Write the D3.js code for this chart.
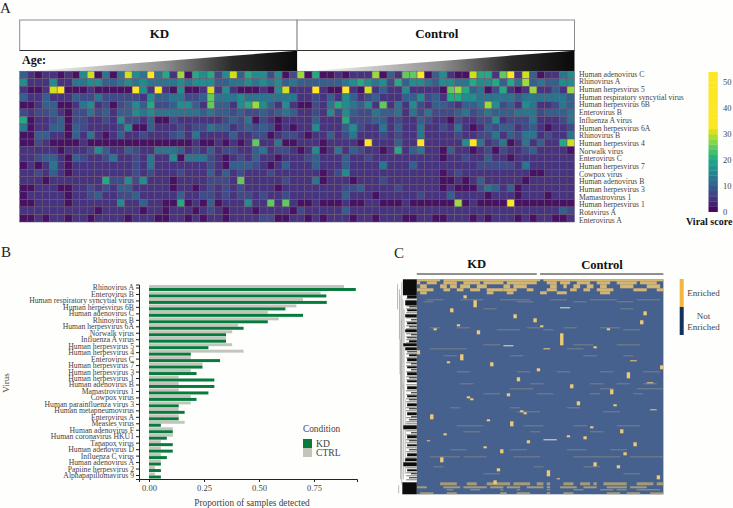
<!DOCTYPE html>
<html>
<head>
<meta charset="utf-8">
<script src="https://cdn.jsdelivr.net/npm/d3@7"></script>
<style>
  html, body { margin: 0; padding: 0; background: #fefefc; }
  svg { display: block; }
  text { font-family: "Liberation Serif", serif; fill: #444; }
  .bold { font-weight: bold; fill: #111; }
</style>
</head>
<body>
<svg id="chart" width="733" height="508"></svg>
<script>
"use strict";

// panel A
var heatViruses = ["Human adenovirus C", "Rhinovirus A", "Human herpesvirus 5", "Human respiratory syncytial virus",
    "Human herpesvirus 6B", "Enterovirus B", "Influenza A virus", "Human herpesvirus 6A", "Rhinovirus B",
    "Human herpesvirus 4", "Norwalk virus", "Enterovirus C", "Human herpesvirus 7", "Cowpox virus",
    "Human adenovirus B", "Human herpesvirus 3", "Mamastrovirus 1", "Human herpesvirus 1", "Rotavirus A", "Enterovirus A"];

// score for each shade seen in the cells
var shadeScores = [1.5, 5, 7.5, 10, 13, 16, 20, 25, 28, 30.5, 50];

// one character per sample, index into shadeScores (a = 10)
var kdRows = [
    "31011010590404954a4618065625936552502",
    "5111511445533454544445455533445454534",
    "10019a000100000a51a105001915100010591",
    "3113111322422222153344223744454444444",
    "0013300145120235362235531733156853151",
    "2122310224231335454444443433232232343",
    "6011230221121522130021111112324021011",
    "4011330321111250031112122433123232010",
    "0033110314101311211123141111311220122",
    "0021000010000000000000010010101711400",
    "1111101112531132114443121312211341221",
    "1123310321124112141150444210121311011",
    "0101410111111112141111111210333210131",
    "1121310111111112121112111313121112111",
    "1110111111162252511101111222171111121",
    "0011100112121331111101101212121111011",
    "0111110112311223111113112212122121121",
    "0011110111111511311006010301115117171",
    "1111111111011111011011101210111011110",
    "0010110110111101110011010110111122001"
];
var controlRows = [
    "8060010111803177a03510096617a19301145",
    "3333334565452635543554465563648343355",
    "11a100a109131151111078634026101811318",
    "1121315312311133523166554444434444443",
    "0021465435171415213321334852315411243",
    "1121525322433414242223423433344423334",
    "1131116222331211321102112251222411124",
    "1151113521141311411214101323312310112",
    "1011312411121211411112112241324412114",
    "111011110a111311a111115a4124014131169",
    "0150141321101613411031101202112311110",
    "1231113112111111111011211311011111111",
    "1131113111141113111111112222214111111",
    "1110125111111111111012111111111001111",
    "1140111011121111111001013111110111111",
    "1111112231111211111010002431301111111",
    "1111113111011111211131111011101110111",
    "0010001001100010000008010000a00000000",
    "2111113111111111111111111111111111132",
    "1010111011011100110011101011101011001"
];
var scoreTicks = [0, 10, 20, 30, 40, 50];
var scoreSteps = d3.range(0, 54, 2);

// panel B
var barViruses = ["Rhinovirus A", "Enterovirus B", "Human respiratory syncytial virus", "Human herpesvirus 6B",
    "Human adenovirus C", "Rhinovirus B", "Human herpesvirus 6A", "Norwalk virus", "Influenza A virus",
    "Human herpesvirus 5", "Human herpesvirus 4", "Enterovirus C", "Human herpesvirus 7", "Human herpesvirus 3",
    "Human herpesvirus 1", "Human adenovirus B", "Mamastrovirus 1", "Cowpox virus", "Human parainfluenza virus 3",
    "Human metapneumovirus", "Enterovirus A", "Measles virus", "Human adenovirus F", "Human coronavirus HKU1",
    "Tanapox virus", "Human adenovirus D", "Influenza C virus", "Human adenovirus A", "Papiine herpesvirus 2",
    "Alphapapillomavirus 9"];
var ctrlValues = [0.886, 0.78, 0.70, 0.67, 0.54, 0.59, 0.405, 0.378, 0.35, 0.378, 0.43, 0.19, 0.243, 0.19, 0.135,
    0.135, 0.135, 0.19, 0.19, 0.135, 0.135, 0.162, 0.108, 0.108, 0.054, 0.054, 0.054, 0.054, 0.027, 0.027];
var kdValues = [0.94, 0.806, 0.808, 0.62, 0.70, 0.54, 0.43, 0.35, 0.35, 0.27, 0.19, 0.323, 0.243, 0.216, 0.297,
    0.297, 0.27, 0.216, 0.135, 0.162, 0.135, 0.054, 0.108, 0.081, 0.108, 0.108, 0.081, 0.054, 0.054, 0.054];
var propTicks = [0, 0.25, 0.5, 0.75];

// panel C, [first column, last column, first row, last row]
var enrichedBlocks = [[14,14,16,18],[17,17,21,27],[10,10,29,32],[29,29,35,38],[35,35,39,42],[12,12,45,46],[5,5,49,50],
    [18,18,51,54],[37,37,46,47],[57,57,49,50],[43,43,54,65],[38,39,69,69],[53,53,67,68],[0,0,71,74],[13,13,75,80],
    [9,9,82,83],[22,22,83,86],[64,65,81,81],[73,73,86,89],[36,36,89,91],[63,63,93,98],[30,30,98,101],[46,46,105,108],
    [69,70,103,103],[58,58,110,114],[27,27,114,116],[15,15,117,118],[16,16,119,120],[48,48,122,125],[59,59,125,126],
    [31,31,131,132],[32,32,133,134],[70,71,130,130],[4,4,135,139],[21,21,140,141],[28,28,142,146],[52,52,147,148],
    [61,61,150,153],[8,8,154,155],[45,45,156,157],[50,50,157,159],[3,3,161,161],[33,33,161,163],[65,65,163,166],
    [20,20,167,168],[25,25,170,173],[62,62,173,175],[7,7,178,182],[24,24,189,191],[53,53,183,186],[60,60,186,188],
    [39,39,191,196],[42,42,199,199],[72,72,196,199],[23,23,201,204],[68,68,32,35],[67,67,41,44]];

// [row, first column, last column]
var faintStreaks = [[20,3,7],[20,13,19],[20,25,33],[20,40,44],[20,52,59],[20,66,72],[22,2,4],[22,30,34],[22,47,50],
    [22,60,64],[29,20,23],[29,61,64],[48,4,6],[48,12,15],[48,33,36],[48,44,47],[48,55,60],[50,24,30],[50,38,40],
    [50,62,66],[65,20,24],[65,47,52],[65,60,66],[69,4,9],[69,10,14],[69,45,49],[76,8,11],[76,28,31],[76,50,53],
    [76,62,64],[92,12,15],[92,30,33],[92,42,45],[92,55,58],[92,68,72],[104,13,16],[104,34,37],[104,52,55],[104,60,63],
    [104,68,71],[109,28,34],[109,55,58],[109,66,73],[114,20,24],[114,36,40],[114,52,54],[114,65,67],[128,10,12],
    [128,45,48],[128,28,30],[132,30,36],[132,56,60],[146,12,19],[146,32,37],[146,47,50],[146,60,66],[152,14,18],
    [152,34,36],[152,52,55],[170,10,14],[170,28,32],[170,45,50],[170,58,62],[177,4,12],[177,14,20],[177,29,36],
    [177,47,60],[177,64,73],[187,5,7],[187,35,37],[187,50,54],[194,20,24],[194,62,66]];
var brightStreaks = [[66,26,28],[28,43,45],[160,38,41]];

// dense groups at the top and bottom of the map: [first row, last row, [[first col, last col], ...]]
var topBand = [
    [0, 1, [[0,6],[8,36],[38,73]]],
    [2, 4, [[0,0],[3,5],[8,11],[14,18],[20,25],[27,35],[39,41],[43,45],[48,51],[54,57],[60,65],[67,71]]],
    [5, 8, [[1,2],[7,8],[10,11],[13,15],[18,20],[26,27],[29,32],[40,41],[44,44],[47,48],[51,52],[55,56],[61,64],[69,72]]],
    [9, 11, [[0,4],[8,9],[12,13],[16,18],[21,25],[26,29],[33,34],[39,41],[46,47],[50,51],[54,58],[65,68],[72,73]]],
    [12, 14, [[1,2],[21,22],[27,28],[37,38],[42,44],[55,57]]]
];
var bottomBand = [
    [203, 205, [[7,11],[15,17],[21,27],[29,33],[36,37],[39,39],[44,46],[49,51],[53,53],[56,62],[66,70],[72,73]]],
    [207, 208, [[0,2],[8,12],[14,20],[22,25],[27,30],[33,37],[39,39],[43,47],[50,53],[57,62],[64,68]]],
    [210, 210, [[9,10],[16,18],[25,25],[30,30],[39,39],[47,49],[55,58],[60,62],[66,72]]],
    [213, 214, [[1,4],[9,11],[25,26],[30,33],[39,39],[44,46],[57,60],[63,66],[70,73]]]
];

// dendrogram: [first row, last row, branch length]
var dendroLeaves = [[0,15,0.72],[16,18,0.5],[21,25,0.6],[27,27,0.4],[30,31,0.5],[35,37,0.6],[40,40,0.3],[43,44,0.5],
    [47,47,0.4],[50,52,0.6],[55,55,0.3],[58,58,0.5],[61,62,0.4],[64,66,0.7],[68,70,0.6],[72,72,0.5],[75,76,0.4],
    [79,81,0.5],[84,84,0.3],[87,88,0.5],[90,90,0.3],[93,95,0.5],[98,98,0.4],[101,102,0.5],[107,109,0.5],[113,113,0.3],
    [116,117,0.5],[120,120,0.4],[124,126,0.5],[129,129,0.4],[133,135,0.5],[137,137,0.3],[140,140,0.4],[146,149,0.7],
    [153,153,0.3],[156,158,0.5],[161,161,0.4],[165,166,0.5],[170,170,0.4],[174,176,0.5],[179,181,0.6],[183,186,0.7],
    [190,191,0.5],[194,194,0.3],[198,198,0.4],[203,214,0.75]];
// rows with a short, lighter branch between the black groups
var dendroThinRows = [19,26,29,33,38,42,46,49,54,57,60,63,74,78,83,86,92,97,100,105,111,115,119,122,128,131,138,
    142,144,151,155,160,163,168,172,178,188,193,196,200];
// dendrogram trunks: [first row, last row, branch length]
var dendroTrunks = [[3,205,0.78],[5,30,1],[10,60,0.9],[60,200,0.84],[30,120,0.66],[120,195,0.6],[206,214,0.94],
    [20,110,0.72],[105,200,0.7],[40,190,0.8],[16,95,0.87]];

var svg = d3.select("#chart");
var defs = svg.append("defs");

function panelLabel(text, x, y) {
    svg.append("text").attr("x", x).attr("y", y).attr("font-size", 15).style("fill", "#222").text(text);
}
panelLabel("A", 0, 13);
panelLabel("B", 1, 257);
panelLabel("C", 394, 258);

// ---- A: age heatmap
var heatRows = kdRows.map(function (r, i) {
    return (r + controlRows[i]).split("").map(function (c) {
        return shadeScores[parseInt(c, 16)];
    });
});
var heatX = d3.scaleBand().domain(d3.range(74)).range([19.7, 574.5]);
var heatY = d3.scaleBand().domain(heatViruses).range([71.2, 222]);
var scoreColor = d3.scaleSequential(d3.interpolateViridis).domain([0, 33]).clamp(true);

var groups = [
    { name: "KD", x0: heatX(0), x1: heatX(37) },
    { name: "Control", x0: heatX(37), x1: heatX(73) + heatX.bandwidth() }
];

var gradient = defs.append("linearGradient").attr("id", "ageRamp");
gradient.append("stop").attr("offset", "0").attr("stop-color", "#ffffff");
gradient.append("stop").attr("offset", "0.5").attr("stop-color", "#8f8f8f");
gradient.append("stop").attr("offset", "0.76").attr("stop-color", "#2a2a2a");
gradient.append("stop").attr("offset", "1").attr("stop-color", "#0a0a0a");

var header = svg.selectAll("g.header").data(groups).join("g").attr("class", "header");
header.append("rect")
    .attr("x", function (d) { return d.x0; })
    .attr("y", 20)
    .attr("width", function (d) { return d.x1 - d.x0; })
    .attr("height", 30.5)
    .attr("fill", "#fff")
    .attr("stroke", "#8c8c8c");
header.append("line")
    .attr("x1", function (d) { return d.x0; })
    .attr("x2", function (d) { return d.x1; })
    .attr("y1", 50.5)
    .attr("y2", 50.5)
    .attr("stroke", "#333");
header.append("text")
    .attr("class", "bold")
    .attr("x", function (d) { return (d.x0 + d.x1) / 2 + 1; })
    .attr("y", 38)
    .attr("text-anchor", "middle")
    .attr("font-size", 13)
    .text(function (d) { return d.name; });
header.append("path")
    .attr("d", function (d) {
        return "M" + (d.x0 + 9) + ",71.2L" + d.x1 + ",50.8L" + d.x1 + ",71.2Z";
    })
    .attr("fill", "url(#ageRamp)");
svg.append("text").attr("class", "bold").attr("x", 22).attr("y", 64).attr("font-size", 12).text("Age:");

svg.append("g").selectAll("g").data(heatRows).join("g")
    .attr("transform", function (d, i) { return "translate(0," + heatY(heatViruses[i]) + ")"; })
    .selectAll("rect").data(function (d) { return d; }).join("rect")
    .attr("x", function (d, i) { return heatX(i); })
    .attr("width", heatX.bandwidth())
    .attr("height", heatY.bandwidth())
    .attr("fill", function (d) { return scoreColor(d); })
    .attr("stroke", "#6a5470")
    .attr("stroke-width", 0.5);

var labelY = d3.scalePoint().domain(heatViruses).range([76.8, 222.6]);
svg.append("g").selectAll("text").data(heatViruses).join("text")
    .attr("x", 579)
    .attr("y", function (d) { return labelY(d); })
    .attr("font-size", 7.7)
    .text(function (d) { return d; });

// colour bar
var barY = d3.scaleLinear().domain([0, 54]).range([211.7, 72]);
svg.append("g").selectAll("rect").data(scoreSteps).join("rect")
    .attr("x", 708.5)
    .attr("y", function (d) { return barY(d + 2); })
    .attr("width", 9.3)
    .attr("height", barY(0) - barY(2) + 0.3)
    .attr("fill", function (d) { return scoreColor(d + 1); });
svg.append("g").selectAll("text").data(scoreTicks).join("text")
    .attr("x", 723)
    .attr("y", function (d) { return barY(d) + 3; })
    .attr("font-size", 8.5)
    .text(function (d) { return d; });
svg.append("text").attr("class", "bold").attr("x", 686).attr("y", 224.5).attr("font-size", 10).text("Viral score");

// ---- B: proportion bars
var barGroup = svg.append("g");
var propX = d3.scaleLinear().domain([-10 / 220, 208 / 220]).range([139, 357]);
var virusY = d3.scaleBand().domain(barViruses).range([284.5, 479]).padding(0.08);
var conditionY = d3.scaleBand().domain(["CTRL", "KD"]).range([0, virusY.bandwidth()]);
var conditionColor = { KD: "#077a3c", CTRL: "#c3c5bd" };

[["CTRL", ctrlValues], ["KD", kdValues]].forEach(function (s) {
    barGroup.append("g").selectAll("rect").data(s[1]).join("rect")
        .attr("x", propX(0))
        .attr("y", function (d, i) { return virusY(barViruses[i]) + conditionY(s[0]); })
        .attr("width", function (d) { return propX(d) - propX(0); })
        .attr("height", conditionY.bandwidth())
        .attr("fill", conditionColor[s[0]]);
});

var xAxis = barGroup.append("g").attr("transform", "translate(0,479)")
    .call(d3.axisBottom(propX).tickValues(propTicks).tickFormat(d3.format(".2f")).tickSize(3).tickPadding(3));
var yAxis = barGroup.append("g").attr("transform", "translate(139,0)")
    .call(d3.axisLeft(virusY).tickSize(3).tickPadding(2));
[xAxis, yAxis].forEach(function (a) {
    a.selectAll("path, line").attr("stroke", "#222");
    a.selectAll("text").style("font-family", "'Liberation Serif', serif").style("fill", "#444");
});
xAxis.selectAll("text").attr("font-size", 8.5);
yAxis.selectAll("text").attr("font-size", 7.7);

barGroup.append("text").attr("x", 252).attr("y", 506).attr("text-anchor", "middle").attr("font-size", 9.3)
    .text("Proportion of samples detected");
barGroup.append("text").attr("transform", "translate(8.5,383) rotate(-90)").attr("text-anchor", "middle")
    .attr("font-size", 9).text("Virus");

barGroup.append("text").attr("x", 303).attr("y", 432).attr("font-size", 9.3).text("Condition");
["KD", "CTRL"].forEach(function (c, i) {
    barGroup.append("rect").attr("x", 303).attr("y", 439 + i * 9).attr("width", 9).attr("height", 9)
        .attr("fill", conditionColor[c]);
    barGroup.append("text").attr("x", 316).attr("y", 447 + i * 9).attr("font-size", 9.6).text(c);
});

// ---- C: enrichment map
var mapGroup = svg.append("g");
var mapX = d3.scaleBand().domain(d3.range(74)).range([416.8, 663.4]);
var mapY = d3.scaleBand().domain(d3.range(215)).range([279.3, 494.3]);
function rectFromCells(sel, cells) {
    return sel.selectAll("rect").data(cells).join("rect")
        .attr("x", function (d) { return mapX(d[0]); })
        .attr("width", function (d) { return mapX(d[1]) - mapX(d[0]) + mapX.bandwidth(); })
        .attr("y", function (d) { return mapY(d[2]); })
        .attr("height", function (d) { return mapY(d[3]) - mapY(d[2]) + mapY.bandwidth(); });
}
function bandCells(band) {
    return d3.merge(band.map(function (b) {
        return b[2].map(function (s) { return [s[0], s[1], b[0], b[1]]; });
    }));
}
function streakCells(streaks) {
    return streaks.map(function (s) { return [s[1], s[2], s[0], s[0]]; });
}

mapGroup.append("rect")
    .attr("x", mapX(0))
    .attr("y", mapY(0))
    .attr("width", mapX.bandwidth() * 74)
    .attr("height", mapY.bandwidth() * 215)
    .attr("fill", "#47618f");
rectFromCells(mapGroup.append("g"), streakCells(faintStreaks)).attr("fill", "#b9ad7e").attr("opacity", 0.42);
rectFromCells(mapGroup.append("g"), streakCells(brightStreaks)).attr("fill", "#ece2b8");
rectFromCells(mapGroup.append("g"), bandCells(bottomBand)).attr("fill", "#c4ae72").attr("opacity", 0.75);
rectFromCells(mapGroup.append("g"), bandCells(topBand)).attr("fill", "#e3c071").attr("opacity", 0.9);
rectFromCells(mapGroup.append("g"), enrichedBlocks).attr("fill", "#efca75");

// dendrogram
var dendroX = d3.scaleLinear().domain([0, 1]).range([416.8, 397.5]);
mapGroup.append("g").selectAll("line").data(dendroTrunks).join("line")
    .attr("x1", function (d) { return dendroX(d[2]); })
    .attr("x2", function (d) { return dendroX(d[2]); })
    .attr("y1", function (d) { return mapY(d[0]); })
    .attr("y2", function (d) { return mapY(d[1]); })
    .attr("stroke", "#a8a8a8")
    .attr("stroke-width", 0.8);
mapGroup.append("g").selectAll("rect.thin").data(dendroThinRows).join("rect")
    .attr("class", "thin")
    .attr("x", dendroX(0.55))
    .attr("width", dendroX(0) - dendroX(0.55))
    .attr("y", function (d) { return mapY(d); })
    .attr("height", mapY.bandwidth())
    .attr("fill", "#777");
mapGroup.append("g").selectAll("rect").data(dendroLeaves).join("rect")
    .attr("x", function (d) { return dendroX(d[2]); })
    .attr("width", function (d) { return dendroX(0) - dendroX(d[2]); })
    .attr("y", function (d) { return mapY(d[0]); })
    .attr("height", function (d) { return mapY(d[1]) - mapY(d[0]) + mapY.bandwidth(); })
    .attr("fill", "#0c0c0c");

[["KD", 0, 35, 476.7, 268], ["Control", 37, 73, 602, 269]].forEach(function (g) {
    mapGroup.append("text").attr("class", "bold").attr("x", g[3]).attr("y", g[4]).attr("text-anchor", "middle")
        .attr("font-size", 12.6).text(g[0]);
    mapGroup.append("line")
        .attr("x1", mapX(g[1]))
        .attr("x2", mapX(g[2]) + mapX.bandwidth())
        .attr("y1", 274)
        .attr("y2", 274)
        .attr("stroke", "#222");
});

mapGroup.append("rect").attr("x", 679.7).attr("y", 279).attr("width", 4).attr("height", 28).attr("fill", "#f2b73f");
mapGroup.append("rect").attr("x", 679.7).attr("y", 307).attr("width", 4).attr("height", 28).attr("fill", "#14305e");
[["Enriched", 296], ["Not", 318.5], ["Enriched", 329.5]].forEach(function (t) {
    mapGroup.append("text").attr("x", 703.5).attr("y", t[1]).attr("text-anchor", "middle")
        .attr("font-size", 9).text(t[0]);
});
</script>
</body>
</html>
